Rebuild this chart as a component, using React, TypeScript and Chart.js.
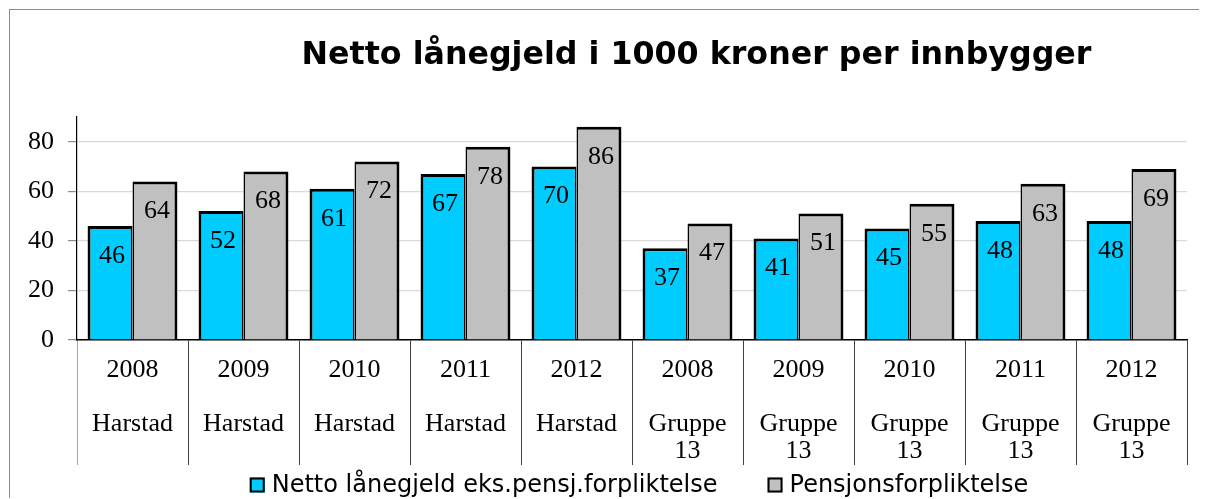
import React, { useEffect, useRef } from "react";
import { Chart, registerables } from "chart.js";

Chart.register(...registerables);

const years = ["2008", "2009", "2010", "2011", "2012", "2008", "2009", "2010", "2011", "2012"];
const groups = ["Harstad", "Harstad", "Harstad", "Harstad", "Harstad", "Gruppe 13", "Gruppe 13", "Gruppe 13", "Gruppe 13", "Gruppe 13"];
const nettoLaanegjeld = [46, 52, 61, 67, 70, 37, 41, 45, 48, 48];
const pensjon = [64, 68, 72, 78, 86, 47, 51, 55, 63, 69];
const seriesNames = ["Netto lånegjeld eks.pensj.forpliktelse", "Pensjonsforpliktelse"];
const seriesColors = ["#00CCFF", "#C0C0C0"];
const yTicks = [0, 20, 40, 60, 80];
const titleText = "Netto lånegjeld i 1000 kroner per innbygger";

const SERIF = '"Liberation Serif", "Times New Roman", serif';
const SANS = '"DejaVu Sans", Verdana, sans-serif';

const CANVAS_W = 1190;
const CANVAS_H = 489;

const titleShift = {
  id: "titleShift",
  afterLayout(chart: any) {
    const t = chart.titleBlock;
    if (t) {
      t.left += 98;
      t.right += 98;
    }
  },
};

const dataLabels = {
  id: "dataLabels",
  afterDatasetsDraw(chart: any) {
    const ctx = chart.ctx;
    ctx.save();
    ctx.font = `26px ${SERIF}`;
    ctx.fillStyle = "#000";
    ctx.textAlign = "center";
    ctx.textBaseline = "middle";
    chart.data.datasets.forEach((ds: any, di: number) => {
      const meta = chart.getDatasetMeta(di);
      meta.data.forEach((el: any, i: number) => {
        ctx.fillText(String(ds.data[i]), el.x + 2, el.y + 30);
      });
    });
    ctx.restore();
  },
};

const customLegend = {
  id: "customLegend",
  afterDraw(chart: any) {
    const ctx = chart.ctx;
    const box = 15;
    const textGap = 7;
    const itemGap = 50;
    ctx.save();
    ctx.font = `24px ${SANS}`;
    const items = chart.data.datasets.map((ds: any) => ({
      label: ds.label,
      color: ds.backgroundColor,
      w: ctx.measureText(ds.label).width,
    }));
    const total =
      items.reduce((s: number, it: any) => s + box + textGap + it.w, 0) + itemGap * (items.length - 1);
    const ca = chart.chartArea;
    let x = (ca.left + ca.right) / 2 + 7 - total / 2;
    const cy = 475;
    ctx.textBaseline = "middle";
    ctx.textAlign = "left";
    items.forEach((it: any) => {
      ctx.fillStyle = it.color;
      ctx.fillRect(x, cy - box / 2, box, box);
      ctx.strokeStyle = "#000";
      ctx.lineWidth = 2;
      ctx.strokeRect(x + 1, cy - box / 2 + 1, box - 2, box - 2);
      ctx.fillStyle = "#000";
      ctx.fillText(it.label, x + box + textGap, cy + 1);
      x += box + textGap + it.w + itemGap;
    });
    ctx.restore();
  },
};

export default function App() {
  const ref = useRef<HTMLCanvasElement | null>(null);

  useEffect(() => {
    document.documentElement.style.overflow = "hidden";
    document.body.style.overflow = "hidden";
    if (!ref.current) return;
    const labels = years.map((y, i) => [y, "", ...groups[i].split(" ")]);
    const chart = new Chart(ref.current, {
      type: "bar",
      data: {
        labels,
        datasets: [
          {
            label: seriesNames[0],
            data: nettoLaanegjeld,
            backgroundColor: seriesColors[0],
            borderColor: "#000",
            borderWidth: { top: 3, left: 3, right: 1.5, bottom: 0 },
            borderSkipped: "start",
            categoryPercentage: 0.81,
            barPercentage: 1,
          },
          {
            label: seriesNames[1],
            data: pensjon,
            backgroundColor: seriesColors[1],
            borderColor: "#000",
            borderWidth: { top: 3, left: 1.5, right: 3, bottom: 0 },
            borderSkipped: "start",
            categoryPercentage: 0.81,
            barPercentage: 1,
          },
        ],
      },
      options: {
        responsive: false,
        animation: false,
        devicePixelRatio: 1,
        layout: { padding: { left: 0, right: CANVAS_W - 1177, top: 0, bottom: 0 } },
        plugins: {
          legend: { display: false },
          tooltip: { enabled: false },
          title: {
            display: true,
            text: titleText,
            color: "#000",
            font: { family: SANS, size: 31.7, weight: "bold" },
            padding: { top: 27, bottom: 41.9 },
          },
        },
        scales: {
          x: {
            type: "category",
            offset: true,
            grid: {
              offset: true,
              drawOnChartArea: false,
              drawTicks: true,
              tickLength: 125,
              color: (c: any) => (c.index === 0 ? "#a6a6a6" : "#404040"),
              lineWidth: 1,
            },
            border: { display: true, color: "#000", width: 1.5 },
            ticks: {
              autoSkip: false,
              maxRotation: 0,
              minRotation: 0,
              padding: -108,
              color: "#000",
              font: { family: SERIF, size: 26, lineHeight: 27 / 26 },
            },
            afterFit: (scale: any) => {
              scale.height = 159;
            },
          },
          y: {
            min: 0,
            max: 90,
            afterBuildTicks: (scale: any) => {
              scale.ticks = yTicks.map((v) => ({ value: v }));
            },
            grid: {
              color: "#d9d9d9",
              lineWidth: 1.2,
              tickLength: 9,
              tickColor: "#8c8c8c",
            },
            border: { display: true, color: "#000", width: 1.2 },
            ticks: {
              padding: 14,
              color: "#000",
              font: { family: SERIF, size: 26 },
            },
            afterFit: (scale: any) => {
              scale.width = 67;
            },
          },
        },
      },
      plugins: [titleShift, dataLabels, customLegend],
    } as any);
    return () => chart.destroy();
  }, []);

  return (
    <div
      style={{
        position: "relative",
        left: 1,
        top: 1,
        width: CANVAS_W,
        height: CANVAS_H,
        borderLeft: "1px solid #8c8c8c",
        borderTop: "1px solid #8c8c8c",
        background: "#fff",
      }}
    >
      <canvas ref={ref} width={CANVAS_W} height={CANVAS_H} style={{ display: "block" }} />
    </div>
  );
}
